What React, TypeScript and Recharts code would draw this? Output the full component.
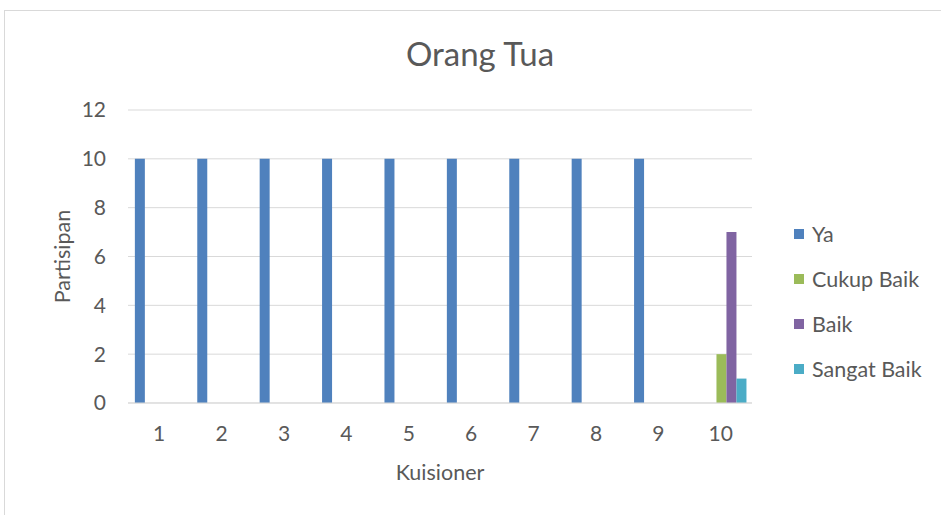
import React from "react";
import { BarChart, Bar, XAxis, YAxis, CartesianGrid } from "recharts";

const kuisioner = ["1", "2", "3", "4", "5", "6", "7", "8", "9", "10"];
const ya = [10, 10, 10, 10, 10, 10, 10, 10, 10, 0];
const tidak = [0, 0, 0, 0, 0, 0, 0, 0, 0, 0];
const cukupBaik = [0, 0, 0, 0, 0, 0, 0, 0, 0, 2];
const baik = [0, 0, 0, 0, 0, 0, 0, 0, 0, 7];
const sangatBaik = [0, 0, 0, 0, 0, 0, 0, 0, 0, 1];
const yTicks = [0, 2, 4, 6, 8, 10, 12];

const series = [
  { key: "Ya", color: "#4f81bd" },
  { key: "Cukup Baik", color: "#9bbb59" },
  { key: "Baik", color: "#8064a2" },
  { key: "Sangat Baik", color: "#4bacc6" },
];

const data = kuisioner.map((k, i) => ({
  k,
  Ya: ya[i],
  Tidak: tidak[i],
  "Cukup Baik": cukupBaik[i],
  Baik: baik[i],
  "Sangat Baik": sangatBaik[i],
}));

const FONT = "Lato, 'Open Sans', sans-serif";
const TXT = "#595959";

// legend drawn outside the chart so it doesn't eat plot space
function LegendBox() {
  return (
    <div style={{ position: "absolute", left: 794, top: 211, fontFamily: FONT }}>
      {series.map(s => (
        <div key={s.key} style={{ display: "flex", alignItems: "center", height: 45 }}>
          <div style={{ width: 10, height: 10, background: s.color, marginRight: 8 }} />
          <span style={{ fontSize: 21.5, color: TXT }}>{s.key}</span>
        </div>
      ))}
    </div>
  );
}

export default function App() {
  return (
    <div style={{ position: "absolute", left: 0, top: 0, width: 941, height: 515, background: "white", overflow: "hidden" }}>
      <div style={{ position: "absolute", left: 4, top: 10, width: 1000, height: 600, border: "1px solid #d9d9d9" }} />
      <div style={{ position: "absolute", left: 330, top: 33, width: 300, textAlign: "center", fontFamily: FONT, fontSize: 33, color: TXT }}>
        Orang Tua
      </div>
      <div style={{ position: "absolute", left: 0, top: 0 }}>
        <BarChart
          width={941}
          height={515}
          data={data}
          margin={{ top: 110, right: 189, bottom: 0, left: 0 }}
          barCategoryGap="11%"
          barGap={0}
        >
          <CartesianGrid vertical={false} stroke="#d9d9d9" strokeWidth={1} />
          <XAxis
            dataKey="k"
            height={112}
            axisLine={{ stroke: "#d9d9d9" }}
            tickLine={false}
            tickSize={0}
            tickMargin={23}
            tick={{ fontSize: 21, fill: TXT, fontFamily: FONT }}
            label={{ value: "Kuisioner", position: "insideTop", offset: 62, fontSize: 21.5, fill: TXT, fontFamily: FONT }}
          />
          <YAxis
            width={128}
            domain={[0, 12]}
            ticks={yTicks}
            interval={0}
            axisLine={false}
            tickLine={false}
            tickSize={0}
            tickMargin={22}
            tick={{ fontSize: 21, fill: TXT, fontFamily: FONT }}
            label={{ value: "Partisipan", angle: -90, position: "insideLeft", offset: 62, fontSize: 21.5, fill: TXT, fontFamily: FONT, style: { textAnchor: "middle" } }}
          />
          <Bar dataKey="Ya" fill="#4f81bd" isAnimationActive={false} />
          <Bar dataKey="Tidak" fill="#c0504d" legendType="none" isAnimationActive={false} />
          <Bar dataKey="Cukup Baik" fill="#9bbb59" isAnimationActive={false} />
          <Bar dataKey="Baik" fill="#8064a2" isAnimationActive={false} />
          <Bar dataKey="Sangat Baik" fill="#4bacc6" isAnimationActive={false} />
        </BarChart>
      </div>
      <LegendBox />
    </div>
  );
}
